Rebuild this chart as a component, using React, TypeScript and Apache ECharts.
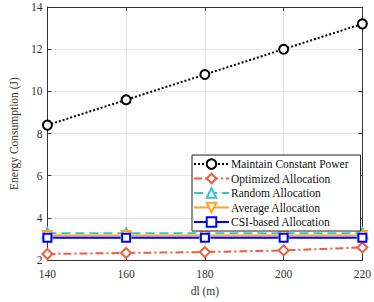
import React, { useEffect, useRef } from "react";
import * as echarts from "echarts";

const categories = [140, 160, 180, 200, 220];
const constantPower = [8.4, 9.6, 10.8, 12.0, 13.2];
const optimized = [2.29, 2.34, 2.38, 2.46, 2.6];
const randomAlloc = [3.27, 3.27, 3.27, 3.27, 3.27];
const averageAlloc = [3.17, 3.17, 3.17, 3.17, 3.17];
const csiAlloc = [3.06, 3.06, 3.06, 3.06, 3.06];

const FONT = "Liberation Serif, Times New Roman, serif";
const FS = 11.5;

export default function App() {
  const ref = useRef<HTMLDivElement>(null);
  useEffect(() => {
    if (!ref.current) return;
    const chart = echarts.init(ref.current, undefined, { renderer: "svg" });
    const toPairs = (arr: number[]) => categories.map((c, i) => [c, arr[i]]);
    const mk = (
      name: string,
      data: number[],
      color: string,
      type: any,
      symbol: string,
      size: number,
      width: number
    ) => ({
      name,
      type: "line",
      data: toPairs(data),
      symbol,
      symbolSize: size,
      showSymbol: true,
      lineStyle: { color, width, type },
      itemStyle: { color: "#fff", borderColor: color, borderWidth: 2 },
      emphasis: { disabled: true },
    });
    const label = { fontFamily: FONT, fontSize: FS, color: "#333" };
    chart.setOption({
      animation: false,
      textStyle: { fontFamily: FONT },
      grid: { left: 32, right: 11, top: 7, bottom: 35 },
      legend: {
        orient: "vertical",
        left: 192,
        top: 155,
        itemWidth: 35,
        itemHeight: 12,
        itemGap: 2.5,
        padding: [3, 12, 3, 1],
        backgroundColor: "#fff",
        borderColor: "#222",
        borderWidth: 1,
        borderRadius: 0,
        textStyle: { fontFamily: FONT, fontSize: FS, color: "#111", padding: [0, 0, 0, -3] },
        data: [
          "Maintain Constant Power",
          "Optimized Allocation",
          "Random Allocation",
          "Average Allocation",
          "CSI-based Allocation",
        ],
      },
      xAxis: [
        {
          type: "value",
          min: 140,
          max: 220,
          interval: 20,
          name: "dl (m)",
          nameLocation: "middle",
          nameGap: 20,
          nameTextStyle: label,
          axisLine: { show: true, lineStyle: { color: "#333", width: 1 } },
          axisTick: { show: true, inside: true, length: 4, lineStyle: { color: "#333" } },
          axisLabel: { ...label, margin: 8 },
          splitLine: { show: true, lineStyle: { color: "#e6e6e6", width: 1 } },
        },
        {
          type: "value",
          position: "top",
          min: 140,
          max: 220,
          interval: 20,
          axisLine: { show: true, lineStyle: { color: "#333", width: 1 } },
          axisTick: { show: true, inside: true, length: 4, lineStyle: { color: "#333" } },
          axisLabel: { show: false },
          splitLine: { show: false },
        },
      ],
      yAxis: [
        {
          type: "value",
          min: 2,
          max: 14,
          interval: 2,
          name: "Energy Consumption (J)",
          nameLocation: "middle",
          nameGap: 21,
          nameTextStyle: label,
          axisLine: { show: true, lineStyle: { color: "#333", width: 1 } },
          axisTick: { show: true, inside: true, length: 4, lineStyle: { color: "#333" } },
          axisLabel: { ...label, margin: 5 },
          splitLine: { show: true, lineStyle: { color: "#e6e6e6", width: 1 } },
        },
        {
          type: "value",
          position: "right",
          min: 2,
          max: 14,
          interval: 2,
          axisLine: { show: true, lineStyle: { color: "#333", width: 1 } },
          axisTick: { show: true, inside: true, length: 4, lineStyle: { color: "#333" } },
          axisLabel: { show: false },
          splitLine: { show: false },
        },
      ],
      series: [
        mk("Maintain Constant Power", constantPower, "#000000", [2, 2], "circle", 9, 2),
        mk("Optimized Allocation", optimized, "#F4593B", [8, 3, 2, 3], "diamond", 10, 2),
        mk("Random Allocation", randomAlloc, "#3CC4C9", [9, 5], "triangle", 10, 2),
        mk("Average Allocation", averageAlloc, "#FFA51E", "solid", "path://M0,0 L10,0 L5,9 Z", 9, 2),
        mk("CSI-based Allocation", csiAlloc, "#0000FF", "solid", "rect", 8, 2),
      ],
    });
    return () => chart.dispose();
  }, []);
  return (
    <div
      ref={ref}
      style={{ position: "fixed", left: 0, top: 0, width: 374, height: 302, background: "#fff" }}
    />
  );
}
